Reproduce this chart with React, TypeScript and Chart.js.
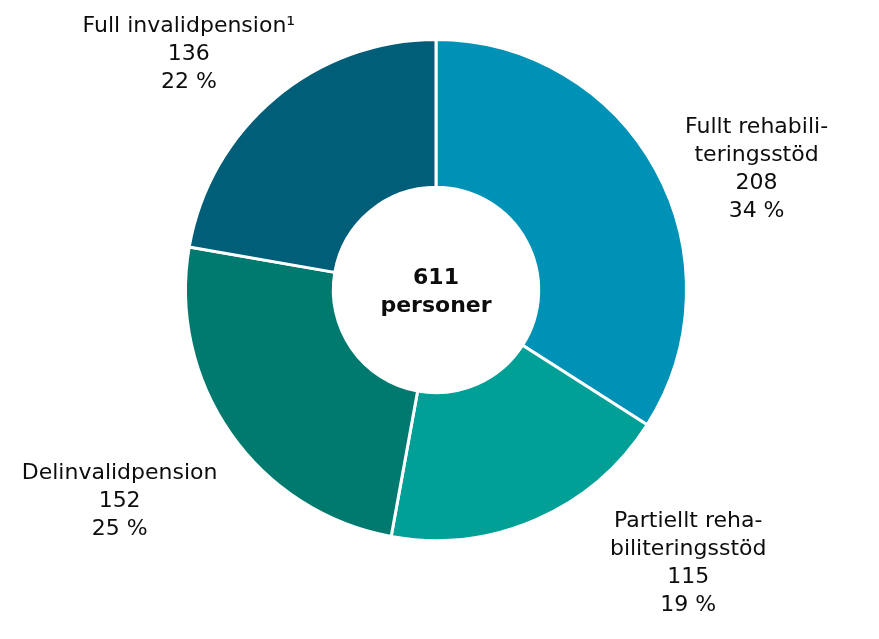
import { useEffect, useRef } from 'react';
import { Chart, registerables } from 'chart.js';

Chart.register(...registerables);

const categories: string[][] = [
  ['Fullt rehabili-', 'teringsstöd'],
  ['Partiellt reha-', 'biliteringsstöd'],
  ['Delinvalidpension'],
  ['Full invalidpension¹'],
];
const values = [208, 115, 152, 136];
const colors = ['#0092B6', '#00A096', '#007A6E', '#005E78'];
const centerWord = 'personer';

// label placement relative to each slice (angle shift in degrees, distance as fraction of outer radius)
const labelAngleShift = [7.7, -19.4, 1.5, -6.0];
const labelDistance = [1.371, 1.477, 1.513, 1.37];

const FONT = '"DejaVu Sans", Verdana, sans-serif';
const LINE_H = 28;

const labelPlugin = {
  id: 'sliceLabels',
  afterDraw(chart: any) {
    const ctx = chart.ctx as CanvasRenderingContext2D;
    const meta = chart.getDatasetMeta(0);
    const total = values.reduce((a, b) => a + b, 0);
    ctx.save();
    ctx.fillStyle = '#0d0d0d';
    ctx.textAlign = 'center';
    ctx.textBaseline = 'alphabetic';
    ctx.font = `22px ${FONT}`;
    let cxc = 0, cyc = 0;
    meta.data.forEach((arc: any, i: number) => {
      const p = arc.getProps(['x', 'y', 'startAngle', 'endAngle', 'outerRadius'], true);
      cxc = p.x; cyc = p.y;
      const mid = (p.startAngle + p.endAngle) / 2 + (labelAngleShift[i] * Math.PI) / 180;
      const d = p.outerRadius * labelDistance[i];
      const lx = p.x + Math.cos(mid) * d;
      const ly = p.y + Math.sin(mid) * d;
      const pct = Math.round((values[i] / total) * 100);
      const lines = [...categories[i], String(values[i]), `${pct} %`];
      const n = lines.length;
      lines.forEach((t, j) => {
        ctx.fillText(t, lx, ly + (j - (n - 1) / 2) * LINE_H + 8);
      });
    });
    ctx.font = `bold 22px ${FONT}`;
    ctx.fillText(String(total), cxc, cyc - 14 + 8);
    ctx.fillText(centerWord, cxc, cyc + 14 + 8);
    ctx.restore();
  },
};

export default function App() {
  const ref = useRef<HTMLCanvasElement | null>(null);
  useEffect(() => {
    document.body.style.margin = '0';
    const canvas = ref.current!;
    const chart = new Chart(canvas, {
      type: 'doughnut',
      data: {
        labels: categories.map((c) => c.join('')),
        datasets: [
          {
            data: values,
            backgroundColor: colors,
            borderColor: '#ffffff',
            borderWidth: 3,
          },
        ],
      },
      options: {
        responsive: false,
        animation: false,
        cutout: '41%',
        layout: { padding: { left: 184, right: 191, top: 38, bottom: 97 } },
        plugins: {
          legend: { display: false },
          tooltip: { enabled: false },
        },
      },
      plugins: [labelPlugin],
    });
    return () => chart.destroy();
  }, []);
  return (
    <div style={{ width: 879, height: 639, background: '#fff' }}>
      <canvas ref={ref} width={879} height={639} />
    </div>
  );
}
